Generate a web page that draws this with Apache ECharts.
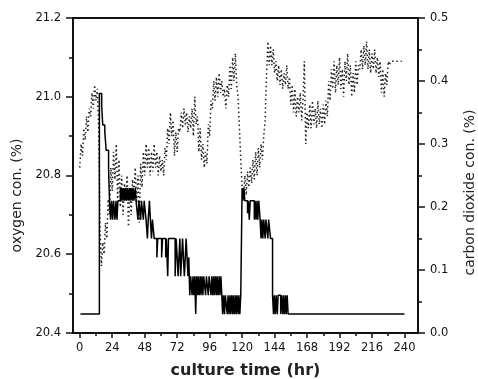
<!DOCTYPE html>
<html>
<head>
<meta charset="utf-8">
<script src="https://cdn.jsdelivr.net/npm/echarts@6/dist/echarts.min.js"></script>
<style>
  html, body { margin: 0; padding: 0; background: #fff; }
  #chart { width: 478px; height: 379px; }
</style>
</head>
<body>
<div id="chart"></div>
<script>
// tick labels
const xTicks = [0, 24, 48, 72, 96, 120, 144, 168, 192, 216, 240];
const xMinorTicks = [12, 36, 60, 84, 108, 132, 156, 180, 204, 228];

// oxygen con. (%), one reading per hour starting at 0 hr (dotted line)
const o2Values = [
  20.82, 20.88, 20.85, 20.92, 20.89, 20.95, 20.91, 20.97, 20.95, 21.01, 20.97, 21.03,
  20.99, 21.02, 20.92, 20.66, 20.57, 20.63, 20.60, 20.68, 20.64, 20.74, 20.70, 20.82,
  20.76, 20.86, 20.79, 20.88, 20.74, 20.84, 20.72, 20.80, 20.70, 20.78, 20.74, 20.80,
  20.67, 20.77, 20.70, 20.79, 20.75, 20.82, 20.73, 20.80, 20.68, 20.83, 20.77, 20.86,
  20.80, 20.88, 20.82, 20.87, 20.80, 20.86, 20.81, 20.88, 20.82, 20.86, 20.80, 20.85,
  20.81, 20.84, 20.80, 20.87, 20.84, 20.92, 20.88, 20.96, 20.90, 20.94, 20.85, 20.91,
  20.86, 20.92, 20.91, 20.96, 20.92, 20.97, 20.93, 20.96, 20.91, 20.95, 20.92, 20.97,
  20.90, 21.00, 20.93, 20.95, 20.86, 20.92, 20.84, 20.88, 20.82, 20.86, 20.83, 20.93,
  20.90, 20.99, 20.97, 21.04, 20.99, 21.05, 21.00, 21.06, 21.01, 21.04, 21.00, 21.02,
  20.97, 21.03, 21.00, 21.08, 21.02, 21.10, 21.04, 21.11, 21.03, 21.00, 20.92, 20.84,
  20.77, 20.74, 20.80, 20.75, 20.81, 20.77, 20.82, 20.78, 20.84, 20.79, 20.86, 20.80,
  20.87, 20.82, 20.88, 20.84, 20.90, 20.94, 21.05, 21.14, 21.08, 21.13, 21.08, 21.12,
  21.06, 21.09, 21.04, 21.08, 21.03, 21.07, 21.02, 21.06, 21.03, 21.08, 21.02, 21.05,
  20.98, 21.03, 20.96, 21.02, 20.95, 21.00, 20.96, 21.01, 20.94, 20.99, 21.09, 20.88,
  20.96, 20.92, 20.98, 20.92, 20.99, 20.93, 20.97, 20.92, 20.99, 20.93, 20.97, 20.92,
  20.98, 20.93, 20.99, 20.95, 21.04, 20.99, 21.07, 21.02, 21.09, 21.01, 21.08, 21.03,
  21.10, 21.02, 21.07, 21.00, 21.09, 21.04, 21.11, 21.03, 21.08, 21.00, 21.06, 21.01,
  21.09, 21.03, 21.08, 21.07, 21.12, 21.07, 21.13, 21.08, 21.14, 21.07, 21.12, 21.06,
  21.11, 21.07, 21.12, 21.06, 21.10, 21.05, 21.09, 21.01, 21.07, 21.00, 21.06, 21.03,
  21.09, 21.08, 21.09, 21.09, 21.09, 21.09, 21.09, 21.09, 21.09, 21.09, 21.09
];

// carbon dioxide con. (%), step readings: value holds from each hour until the next
const co2Hours = [
  0.5, 14.5, 16.2, 17, 18.5, 19.5, 21.3, 22, 22.8, 23.5, 24.3, 25, 26, 26.8, 27.5, 28.2,
  30, 30.7, 31.3, 32, 32.6, 33.3, 34, 34.6, 35.3, 36, 36.7, 37.3, 38, 38.7, 39.3, 40,
  41, 41.6, 43, 43.7, 45, 45.6, 47, 47.6, 49,
  50, 50.6, 51.5, 52.2, 53, 53.7, 55, 57, 57.6, 60.5, 61.2, 63.5, 64, 65, 65.6,
  70.5, 71.2, 72, 72.7, 73.3, 74, 74.6, 75.3, 76, 76.6, 77.3, 78, 78.6, 79.3, 80, 80.6,
  81.3, 82, 83, 83.7, 84.3, 85, 85.7, 86.3, 87, 87.6, 88.3, 89, 89.6, 90.3, 91, 91.6,
  93, 93.6, 95, 95.6, 97, 97.6, 98.3, 99, 99.6, 100.3, 101, 101.6, 102.3, 103, 103.6,
  104.3, 105, 105.6, 106.3, 107, 107.6, 109, 109.6, 110.3, 111, 111.6, 112.3, 113,
  113.6, 114.3, 115, 115.6, 116.3, 117, 117.6, 118.3, 119,
  120, 120.6, 121.3, 122, 124, 124.6, 125.3, 126, 129, 129.6, 130.3, 131, 131.6, 132.3,
  133.3, 134, 134.6, 135.3, 136, 137, 137.6, 139, 139.6, 141,
  142.5, 143.2, 143.8, 144.5, 145.2, 146, 146.6, 148.5, 149.2, 150, 150.6, 151.3, 152,
  152.6, 153.3, 154, 240
];
const co2Values = [
  0.03, 0.38, 0.36, 0.33, 0.32, 0.29, 0.26, 0.21, 0.18, 0.21, 0.18, 0.21, 0.18, 0.21, 0.18, 0.21,
  0.23, 0.21, 0.23, 0.21, 0.23, 0.21, 0.23, 0.21, 0.23, 0.21, 0.23, 0.21, 0.23, 0.21, 0.23, 0.21,
  0.23, 0.21, 0.18, 0.21, 0.18, 0.21, 0.18, 0.21, 0.18,
  0.15, 0.18, 0.21, 0.18, 0.15, 0.18, 0.15, 0.12, 0.15, 0.12, 0.15, 0.12, 0.15, 0.09, 0.15,
  0.09, 0.15, 0.12, 0.09, 0.12, 0.15, 0.09, 0.12, 0.15, 0.12, 0.09, 0.12, 0.15, 0.12, 0.09, 0.12,
  0.06, 0.09, 0.06, 0.09, 0.06, 0.09, 0.03, 0.09, 0.06, 0.09, 0.06, 0.09, 0.06, 0.09, 0.06, 0.09,
  0.06, 0.09, 0.06, 0.09, 0.06, 0.09, 0.06, 0.09, 0.06, 0.09, 0.06, 0.09, 0.06, 0.09, 0.06,
  0.09, 0.06, 0.03, 0.06, 0.03, 0.06, 0.03, 0.06, 0.03, 0.06, 0.03, 0.06, 0.03,
  0.06, 0.03, 0.06, 0.03, 0.06, 0.03, 0.06, 0.03, 0.06,
  0.23, 0.21, 0.23, 0.21, 0.19, 0.21, 0.18, 0.21, 0.18, 0.21, 0.18, 0.21, 0.18, 0.21,
  0.18, 0.15, 0.18, 0.15, 0.18, 0.15, 0.18, 0.15, 0.18, 0.15,
  0.06, 0.03, 0.06, 0.03, 0.06, 0.03, 0.06, 0.03, 0.06, 0.03, 0.06, 0.03, 0.06,
  0.03, 0.06, 0.03, 0.03
];

const o2Data = o2Values.map((v, i) => [i, v]);
const co2Data = co2Hours.map((h, i) => [h, co2Values[i]]);

const chart = echarts.init(document.getElementById('chart'));

const labelFont = { fontFamily: 'DejaVu Sans', fontSize: 11.5, color: '#111' };
const axisLine = { show: true, onZero: false, lineStyle: { color: '#111', width: 2 } };
const tickStyle = { color: '#111', width: 1.5 };

const option = {
  animation: false,
  backgroundColor: '#fff',
  grid: { left: 73, right: 60, top: 18, bottom: 46, outerBoundsMode: 'none', containLabel: false },
  xAxis: [
    {
      type: 'value', min: -5, max: 250, position: 'bottom',
      name: 'culture time (hr)', nameLocation: 'middle', nameGap: 30,
      nameTextStyle: { fontFamily: 'DejaVu Sans', fontWeight: 'bold', fontSize: 16, color: '#222' },
      axisLine: axisLine,
      axisTick: { customValues: xTicks, length: 5, lineStyle: tickStyle },
      axisLabel: Object.assign({ customValues: xTicks, margin: 9 }, labelFont),
      splitLine: { show: false }
    },
    {
      type: 'value', min: -5, max: 250, position: 'bottom',
      axisLine: { show: false, onZero: false },
      axisTick: { customValues: xMinorTicks, length: 3, lineStyle: tickStyle },
      axisLabel: { show: false },
      splitLine: { show: false }
    },
    {
      type: 'value', min: -5, max: 250, position: 'top',
      axisLine: axisLine,
      axisTick: { show: false },
      axisLabel: { show: false },
      splitLine: { show: false }
    }
  ],
  yAxis: [
    {
      type: 'value', min: 20.4, max: 21.2, interval: 0.2, position: 'left',
      name: 'oxygen con. (%)', nameLocation: 'middle', nameGap: 47, nameRotate: 90,
      nameTextStyle: { fontFamily: 'DejaVu Sans', fontSize: 14, color: '#222', padding: [0, 40, 0, 0] },
      axisLine: axisLine,
      axisTick: { length: 7, lineStyle: tickStyle },
      minorTick: { show: true, splitNumber: 2, length: 4, lineStyle: tickStyle },
      axisLabel: Object.assign({ margin: 12, showMinLabel: true, showMaxLabel: true,
        formatter: v => v.toFixed(1) }, labelFont),
      splitLine: { show: false }
    },
    {
      type: 'value', min: 0, max: 0.5, interval: 0.1, position: 'right',
      name: 'carbon dioxide con. (%)', nameLocation: 'middle', nameGap: 45, nameRotate: 90,
      nameTextStyle: { fontFamily: 'DejaVu Sans', fontSize: 14, color: '#222', padding: [0, 34, 0, 0] },
      axisLine: axisLine,
      axisTick: { length: 7, lineStyle: tickStyle },
      minorTick: { show: true, splitNumber: 2, length: 4, lineStyle: tickStyle },
      axisLabel: Object.assign({ margin: 12, showMinLabel: true, showMaxLabel: true,
        formatter: v => v.toFixed(1) }, labelFont),
      splitLine: { show: false }
    }
  ],
  series: [
    {
      name: 'oxygen',
      type: 'line',
      xAxisIndex: 0,
      yAxisIndex: 0,
      data: o2Data,
      showSymbol: false,
      lineStyle: { color: '#222', width: 1.5, type: [1.5, 2.8] },
      z: 2
    },
    {
      name: 'carbon dioxide',
      type: 'line',
      xAxisIndex: 0,
      yAxisIndex: 1,
      step: 'end',
      data: co2Data,
      showSymbol: false,
      lineStyle: { color: '#000', width: 1.5 },
      z: 3
    }
  ]
};

option && chart.setOption(option);
</script>
</body>
</html>
